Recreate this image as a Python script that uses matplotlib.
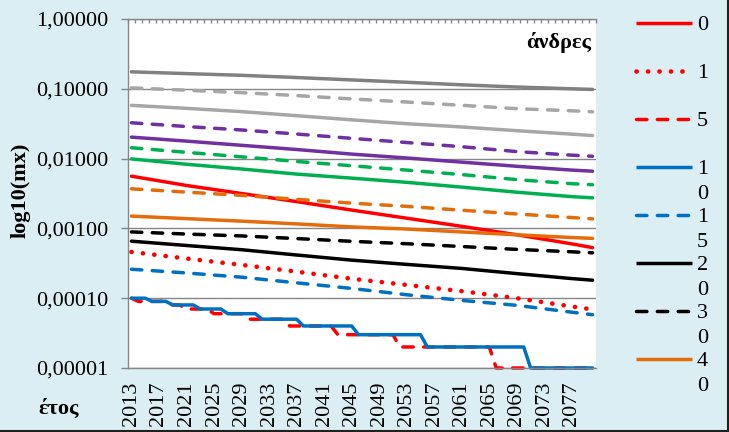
import matplotlib
matplotlib.use("Agg")
import matplotlib.pyplot as plt
from matplotlib.lines import Line2D
from matplotlib.ticker import FuncFormatter, NullLocator

plt.rcParams['font.family'] = ['Liberation Serif', 'DejaVu Serif']

# years on the category axis
years = list(range(2013, 2081))
pt_years = [2013, 2021, 2029, 2037, 2045, 2053, 2061, 2069, 2077, 2080]
tick_years = list(range(2013, 2081, 4))
y_ticks = [1e-5, 1e-4, 1e-3, 1e-2, 1e-1, 1.0]

# mx values (smooth series at pt_years)
age_0 = [0.0056, 0.00412, 0.00316, 0.00242, 0.00183, 0.0014, 0.00107, 0.00081, 0.0006, 0.00053]
age_1 = [0.00046, 0.00037, 0.0003, 0.00024, 0.00019, 0.000155, 0.000126, 0.0001, 0.000076, 0.000069]
age_15 = [0.00026, 0.00023, 0.0002, 0.000166, 0.000138, 0.000112, 0.000093, 0.000079, 0.000063, 0.000058]
age_20 = [0.000656, 0.000569, 0.000495, 0.000416, 0.000351, 0.000305, 0.000267, 0.000225, 0.000191, 0.000181]
age_30 = [0.00089, 0.00083, 0.00078, 0.000715, 0.000653, 0.000603, 0.00055, 0.0005, 0.000462, 0.000447]
age_40 = [0.0015, 0.00138, 0.00127, 0.00116, 0.00105, 0.00098, 0.00089, 0.00081, 0.00074, 0.00072]
age_50 = [0.00369, 0.00331, 0.00297, 0.00261, 0.0023, 0.00207, 0.00182, 0.00161, 0.00143, 0.00137]
age_60 = [0.0099, 0.0083, 0.0071, 0.006, 0.00525, 0.00457, 0.0039, 0.0033, 0.00285, 0.00274]
age_65 = [0.0143, 0.0123, 0.0106, 0.0091, 0.0079, 0.00684, 0.0059, 0.005, 0.00437, 0.00422]
age_70 = [0.0203, 0.0178, 0.0155, 0.0135, 0.0116, 0.0102, 0.0089, 0.00776, 0.00684, 0.0066]
age_75 = [0.0326, 0.0288, 0.0257, 0.0225, 0.0195, 0.017, 0.0148, 0.0126, 0.0112, 0.0108]
age_80 = [0.0579, 0.0525, 0.0471, 0.0412, 0.0359, 0.0316, 0.0284, 0.0251, 0.0224, 0.0214]
age_85 = [0.103, 0.0955, 0.0881, 0.08, 0.0716, 0.0646, 0.058, 0.0519, 0.0484, 0.0468]
age_90 = [0.175, 0.165, 0.156, 0.145, 0.134, 0.124, 0.114, 0.106, 0.1, 0.098]

# ages 5 and 10 are rounded to 5 decimals, so they step (values in 1e-5, one per year)
age_5_e5 = [10, 9, 9, 9, 9, 9, 8, 8, 7, 7, 7, 7, 6, 6, 6, 6, 6, 5, 5, 5, 5, 5, 5,
            4, 4, 4, 4, 4, 4, 4, 3, 3, 3, 3, 3, 3, 3, 3, 3,
            2, 2, 2, 2, 2, 2, 2, 2, 2, 2, 2, 2, 2, 2,
            1, 1, 1, 1, 1, 1, 1, 1, 1, 1, 1, 1, 1, 1, 1]
age_10_e5 = [10, 10, 10, 9, 9, 9, 8, 8, 8, 8, 7, 7, 7, 7, 6, 6, 6, 6, 6,
             5, 5, 5, 5, 5, 5, 4, 4, 4, 4, 4, 4, 4, 4,
             3, 3, 3, 3, 3, 3, 3, 3, 3, 3,
             2, 2, 2, 2, 2, 2, 2, 2, 2, 2, 2, 2, 2, 2, 2,
             1, 1, 1, 1, 1, 1, 1, 1, 1, 1]
age_5 = [v * 1e-5 for v in age_5_e5]
age_10 = [v * 1e-5 for v in age_10_e5]

legend_labels = ["0", "1", "5", "10", "15", "20", "30", "40"]

RED, BLUE, BLK = '#FF0000', '#0070C0', '#000000'
ORG, GRN, PUR = '#E46C0A', '#00B050', '#7030A0'
LGR, DGR = '#A6A6A6', '#808080'
SOLID = '-'
DASH = (0, (3.0, 3.0))
DOT = (0, (0.05, 2.45))

series = [
    ("0", pt_years, age_0, RED, SOLID),
    ("1", pt_years, age_1, RED, DOT),
    ("5", years, age_5, RED, DASH),
    ("10", years, age_10, BLUE, SOLID),
    ("15", pt_years, age_15, BLUE, DASH),
    ("20", pt_years, age_20, BLK, SOLID),
    ("30", pt_years, age_30, BLK, DASH),
    ("40", pt_years, age_40, ORG, SOLID),
    ("50", pt_years, age_50, ORG, DASH),
    ("60", pt_years, age_60, GRN, SOLID),
    ("65", pt_years, age_65, GRN, DASH),
    ("70", pt_years, age_70, PUR, SOLID),
    ("75", pt_years, age_75, PUR, DASH),
    ("80", pt_years, age_80, LGR, SOLID),
    ("85", pt_years, age_85, LGR, DASH),
    ("90", pt_years, age_90, DGR, SOLID),
]

fig = plt.figure(figsize=(7.29, 4.32), dpi=100)
fig.patch.set_facecolor('#DBEEF4')
ax = fig.add_axes([128 / 729, 1 - 368 / 432, 468 / 729, 349 / 432])
ax.set_facecolor('white')

handles = {}
for name, xs, ys, col, ls in series:
    lw = 3.3 if ls is DOT else 2.5
    ax.plot(xs, ys, color=col, lw=lw, linestyle=ls, clip_on=False,
            dash_capstyle='round', solid_capstyle='round', solid_joinstyle='round')
    handles[name] = (col, ls, lw)

ax.set_yscale('log')
ax.set_ylim(1e-5, 1)
ax.set_xlim(2012.5, 2080.5)
ax.set_yticks(y_ticks)
ax.yaxis.set_minor_locator(NullLocator())
ax.yaxis.set_major_formatter(FuncFormatter(lambda v, p: f"{v:.5f}".replace('.', ',')))
ax.yaxis.grid(True, color='#868686', lw=1)
ax.set_axisbelow(True)

ax.set_xticks(tick_years)
ax.set_xticklabels([str(y) for y in tick_years], rotation=90, fontsize=16)
ax.set_xticks([y - 0.5 for y in years] + [years[-1] + 0.5], minor=True)
ax.tick_params(axis='x', which='major', length=0, pad=10, top=False, bottom=True)
ax.tick_params(axis='x', which='minor', length=3, direction='in', top=True, bottom=False,
               color='#868686', width=1)
ax.tick_params(axis='y', which='major', length=5, direction='out', color='#868686',
               width=1, pad=9, labelsize=16)

ax.spines['right'].set_visible(False)
for s in ['left', 'top', 'bottom']:
    ax.spines[s].set_color('#868686')
    ax.spines[s].set_linewidth(1)

ax.set_ylabel("log10(mx)", fontsize=16, fontweight='bold')
ax.yaxis.set_label_coords(-0.209, 0.51)
ax.text(0.989, 0.934, "άνδρες", transform=ax.transAxes, ha='right', va='center',
        fontsize=16, fontweight='bold')
fig.text(59 / 729, 1 - 409 / 432, "έτος", ha='center', va='center',
         fontsize=16, fontweight='bold')

# legend, cut off after the eighth entry like the original; labels wrap one digit per line
for i, lab in enumerate(legend_labels):
    col, ls, lw = handles[lab]
    yp = 23 + i * 48
    fig.add_artist(Line2D([636 / 729, 692 / 729], [1 - yp / 432] * 2, color=col, lw=lw,
                          linestyle=ls, dash_capstyle='round', solid_capstyle='butt',
                          transform=fig.transFigure))
    fig.text(697 / 729, 1 - (yp - 7) / 432, "\n".join(lab), ha='left', va='top',
             fontsize=16, linespacing=1.4)

# outer frame (right and bottom edges visible)
fig.add_artist(Line2D([727.5 / 729, 727.5 / 729], [0, 1], color='#202020', lw=1.5,
                      transform=fig.transFigure))
fig.add_artist(Line2D([0, 1], [1.5 / 432, 1.5 / 432], color='#202020', lw=1.5,
                      transform=fig.transFigure))

fig.savefig("out.png", dpi=100, facecolor=fig.get_facecolor())
